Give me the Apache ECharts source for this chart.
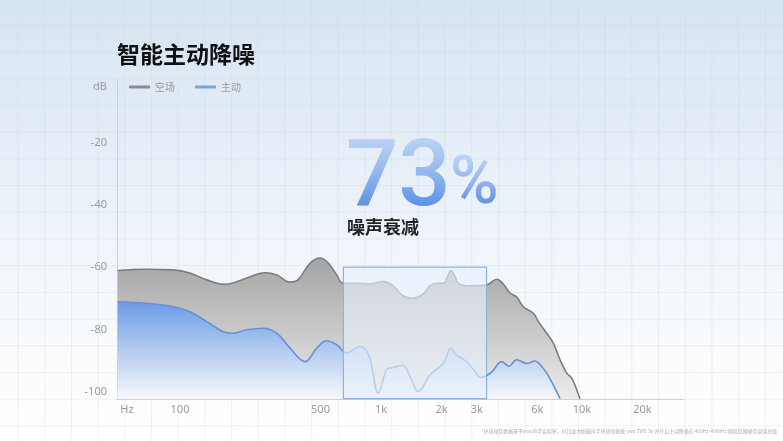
<!DOCTYPE html>
<html>
<head>
<meta charset="utf-8">
<script src="https://cdn.jsdelivr.net/npm/echarts@6/dist/echarts.min.js"></script>
<style>
    html, body { margin: 0; padding: 0; }
    #main {
        width: 783px;
        height: 441px;
        background-color: #ffffff;
        background-image:
            linear-gradient(to right, rgba(196, 208, 222, 0.28) 1px, transparent 1px),
            linear-gradient(to bottom, rgba(196, 208, 222, 0.28) 1px, transparent 1px),
            linear-gradient(to bottom, #d6e4f1 0%, #e6eef7 35%, #f6f9fc 70%, #ffffff 100%);
        background-size: 26.7px 26.7px, 26.7px 26.7px, 100% 100%;
        background-position: 17.6px 25px, 17.6px 25px, 0 0;
    }
</style>
</head>
<body>
<div id="main"></div>
<script>
// 频率刻度
var tickValues = [100, 500, 1000, 2000, 3000, 6000, 10000, 20000];
var tickLabels = ['100', '500', '1k', '2k', '3k', '6k', '10k', '20k'];
var dbTicks = [-100, -80, -60, -40, -20];

// 空场 (Hz / dB)
var ambientFreq = [49, 68, 92, 112, 136, 164, 184, 215, 265, 303, 353, 386, 443, 497, 545, 602,
    647, 760, 882, 1023, 1148, 1286, 1443, 1618, 1753, 1899, 2042, 2163, 2230, 2335, 2425,
    2773, 3357, 3767, 4058, 4385, 4733, 5105, 5727, 6067, 6673, 7198, 7776, 8395, 8890, 9418, 9772];
var ambientDb = [-61.1, -60.7, -60.9, -61.9, -64.1, -65.5, -65.1, -63.5, -61.8, -62.5, -64.8, -64.1,
    -58.8, -57.1, -58.6, -62.5, -65.2, -65.2, -65.4, -64.6, -66.0, -69.2, -70.0, -68.6, -66.0,
    -65.2, -65.2, -62.5, -61.1, -63.0, -65.2, -66.0, -65.7, -63.9, -65.4, -68.3, -69.6, -72.7,
    -74.8, -77.5, -81.2, -84.4, -89.7, -94.0, -95.6, -99.4, -102.2];

// 主动 (Hz / dB)
var ancFreq = [49, 68, 93, 112, 136, 164, 184, 215, 260, 303, 353, 419, 479, 537, 602, 675, 786,
    870, 970, 1075, 1131, 1278, 1396, 1530, 1753, 2042, 2230, 2357, 2585, 2868, 3148, 3534,
    3988, 4331, 4733, 5302, 5839, 6193, 6673, 7198, 7776];
var ancDb = [-71.1, -71.6, -72.7, -74.3, -77.5, -80.7, -81.2, -80.1, -79.6, -81.2, -86.0, -90.3,
    -86.0, -83.6, -84.9, -87.5, -85.5, -88.3, -100.4, -92.6, -92.3, -91.5, -95.1, -99.9, -94.6,
    -90.8, -86.0, -88.1, -89.7, -92.6, -95.4, -93.8, -90.3, -91.8, -89.7, -90.9, -90.1, -91.3,
    -94.0, -97.8, -102.2];

// 衰减统计频段
var bandFreq = [650, 3350];
var bandTopDb = -60;

function zip(xs, ys) {
    var out = [];
    for (var i = 0; i < xs.length; i++) {
        out.push([xs[i], ys[i]]);
    }
    return out;
}

var myChart = echarts.init(document.getElementById('main'));
var numFont = "'Noto Sans', 'Noto Sans CJK SC', sans-serif";
var cjkFont = "'Noto Sans CJK SC', sans-serif";

var option = {
    animation: false,
    title: {
        text: '智能主动降噪',
        left: 112,
        top: 38,
        textStyle: {
            fontFamily: cjkFont,
            fontSize: 23,
            fontWeight: 'bold',
            color: '#111'
        }
    },
    legend: {
        left: 124,
        top: 77,
        icon: 'roundRect',
        itemWidth: 21,
        itemHeight: 3,
        itemGap: 20,
        textStyle: {
            fontFamily: cjkFont,
            fontSize: 10,
            color: '#999'
        },
        data: ['空场', '主动']
    },
    grid: {
        left: 117,
        right: 100,
        top: 80,
        bottom: 42,
        containLabel: false
    },
    xAxis: {
        type: 'log',
        logBase: 10,
        min: 48.6,
        max: 31800,
        name: 'Hz',
        nameLocation: 'start',
        nameGap: -10,
        nameTextStyle: {
            align: 'center',
            verticalAlign: 'top',
            padding: [5, 0, 0, 0],
            fontFamily: numFont,
            fontSize: 11,
            color: '#999'
        },
        axisLine: { onZero: false, lineStyle: { color: '#cfcfcf', width: 1 } },
        axisTick: { show: false },
        splitLine: { show: false },
        axisLabel: {
            customValues: tickValues,
            margin: 5,
            fontFamily: numFont,
            fontSize: 11,
            color: '#999',
            formatter: function (v) {
                for (var i = 0; i < tickValues.length; i++) {
                    if (Math.abs(tickValues[i] - v) / tickValues[i] < 0.01) return tickLabels[i];
                }
                return '';
            }
        }
    },
    yAxis: {
        type: 'value',
        min: -102.3,
        max: 0,
        name: 'dB',
        nameLocation: 'end',
        nameGap: -7,
        nameTextStyle: {
            align: 'right',
            verticalAlign: 'middle',
            padding: [0, 10, 0, 0],
            fontFamily: numFont,
            fontSize: 11,
            color: '#999'
        },
        axisLine: { show: true, onZero: false, lineStyle: { color: '#cfcfcf', width: 1 } },
        axisTick: { show: false },
        splitLine: { show: false },
        axisLabel: {
            customValues: dbTicks,
            margin: 10,
            fontFamily: numFont,
            fontSize: 11,
            color: '#999'
        }
    },
    series: [
        {
            name: '空场',
            type: 'line',
            smooth: 0.4,
            showSymbol: false,
            itemStyle: { color: '#8a8a8a' },
            lineStyle: { color: '#7c7c7c', width: 1.6 },
            areaStyle: {
                origin: 'start',
                opacity: 1,
                color: new echarts.graphic.LinearGradient(0, 0, 0, 1, [
                    { offset: 0, color: '#a4a4a4' },
                    { offset: 0.45, color: '#c4c4c4' },
                    { offset: 1, color: '#ececec' }
                ])
            },
            data: zip(ambientFreq, ambientDb)
        },
        {
            name: '主动',
            type: 'line',
            smooth: 0.4,
            showSymbol: false,
            itemStyle: { color: '#79a2e0' },
            lineStyle: { color: '#6791d6', width: 1.6 },
            areaStyle: {
                origin: 'start',
                opacity: 1,
                color: new echarts.graphic.LinearGradient(0, 0, 0, 1, [
                    { offset: 0, color: '#6c9be6' },
                    { offset: 0.5, color: '#b3cbef' },
                    { offset: 1, color: '#f6f8fc' }
                ])
            },
            markArea: {
                silent: true,
                z: 10,
                itemStyle: {
                    color: 'rgba(231, 239, 250, 0.64)',
                    borderColor: '#8fb1e0',
                    borderWidth: 1.2
                },
                data: [[
                    { xAxis: bandFreq[0], yAxis: bandTopDb },
                    { xAxis: bandFreq[1], yAxis: 'min' }
                ]]
            },
            data: zip(ancFreq, ancDb)
        }
    ],
    graphic: [
        {
            type: 'text',
            z: 100,
            left: 347,
            top: 218,
            style: {
                text: '噪声衰减',
                fontFamily: cjkFont,
                fontSize: 18,
                fontWeight: 'bold',
                fill: '#222'
            }
        },
        {
            type: 'text',
            z: 100,
            right: 6,
            top: 429,
            style: {
                text: '*环境噪音数据基于vivo声学实验室，对比波为佩戴声学环境和佩戴 vivo TWS 3e 并开启主动降噪在 400Hz-4000Hz 频段范围噪音衰减总值',
                fontFamily: cjkFont,
                fontSize: 4.9,
                fill: '#aaa'
            }
        }
    ]
};

myChart.setOption(option);

// 大号 73%: 文字只认纯色, 所以按横条切片裁剪, 每条一个颜色拼出渐变
var zr = myChart.getZr();
var bigFont = "Roboto, 'Noto Sans', sans-serif";

function gradientText(text, x, y, size, glyphTop, glyphBottom) {
    var step = 2;
    for (var by = 0; by < size * 1.1; by += step) {
        var t = (by + step / 2 - glyphTop) / (glyphBottom - glyphTop);
        t = Math.max(0, Math.min(1, t));
        var el = new echarts.graphic.Text({
            x: x,
            y: y,
            z: 100,
            style: {
                text: text,
                x: 0,
                y: 0,
                align: 'left',
                verticalAlign: 'top',
                font: '500 ' + size + 'px ' + bigFont,
                fill: echarts.color.lerp(t, ['#bcd3f3', '#98b9ee', '#6094e6'])
            }
        });
        el.setClipPath(new echarts.graphic.Rect({
            shape: { x: -5, y: by, width: size * 2, height: step }
        }));
        zr.add(el);
    }
}

gradientText('73', 346, 136, 92, 1, 68);
gradientText('%', 450, 153, 66, 2, 50);
</script>
</body>
</html>
